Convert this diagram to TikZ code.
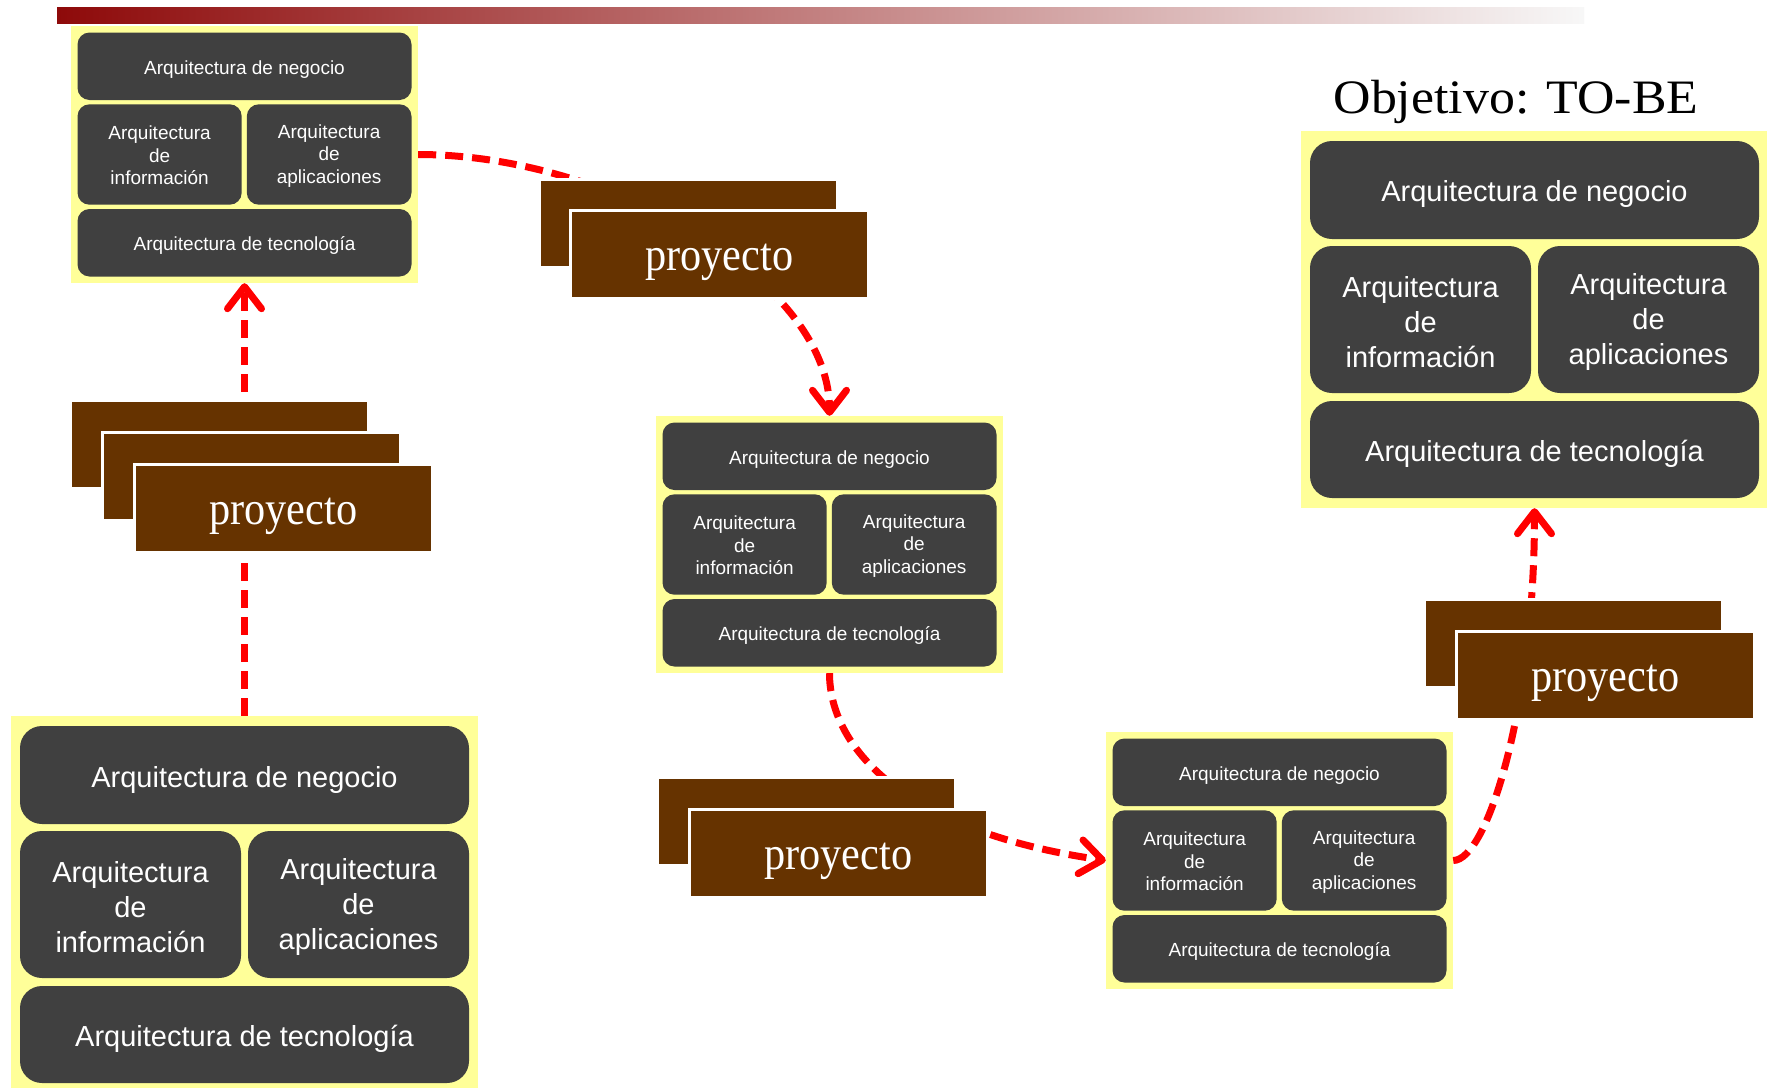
\documentclass[tikz,border=0pt]{standalone}
\usepackage{fontspec}
\setmainfont{Liberation Serif}
\setsansfont{Liberation Sans}
\usepackage{graphicx}
\usetikzlibrary{arrows.meta,calc}
\definecolor{yel}{HTML}{FFFF99}
\definecolor{dk}{HTML}{404040}
\definecolor{brn}{HTML}{663300}
\definecolor{barred}{RGB}{142,10,10}
\definecolor{barmid}{RGB}{200,160,160}
\definecolor{arrred}{HTML}{FF0000}

\tikzset{
  ybox/.style={rectangle, fill=yel, inner sep=0pt},
  dsm/.style={rectangle, rounded corners=12pt, fill=dk, text=white, inner sep=0pt, align=center,
    font=\sffamily\fontsize{19}{22.5}\selectfont},
  dbg/.style={rectangle, rounded corners=22pt, fill=dk, text=white, inner sep=0pt, align=center,
    font=\sffamily\fontsize{29}{35}\selectfont},
  pbox/.style={rectangle, fill=brn, draw=white, line width=2.5pt, minimum width=298pt,
    minimum height=88pt, anchor=north west, inner sep=0pt},
  ptext/.style={text=white, font=\fontsize{47}{50}\selectfont, text height=32pt, text depth=0pt},
  arr/.style={draw=arrred, line width=7pt, dash pattern=on 18pt off 9pt,
    -{Straight Barb[length=22pt,width=34pt,round]}},
}

\newcommand{\smallarch}[3]{%
  \node[ybox, minimum width=347pt, minimum height=257pt] (#1) at (#2+173.5,#3+128.5) {};
  \node[dsm, minimum width=334pt, minimum height=67.5pt] (#1-n) at (#2+173.5,#3+40.25) {\rule{0pt}{20pt}Arquitectura de negocio};
  \node[dsm, minimum width=164.2pt, minimum height=100.4pt] (#1-i) at (#2+88.6,#3+128.5) {\rule{0pt}{16pt}Arquitectura\\de\\información};
  \node[dsm, minimum width=164.7pt, minimum height=100.4pt] (#1-a) at (#2+258.15,#3+128.5) {\rule{0pt}{16pt}Arquitectura\\de\\aplicaciones};
  \node[dsm, minimum width=334pt, minimum height=67.5pt] (#1-t) at (#2+173.5,#3+216.75) {\rule{0pt}{20pt}Arquitectura de tecnología};
}
\newcommand{\bigarch}[3]{%
  \node[ybox, minimum width=467pt, minimum height=377pt] (#1) at (#2+233.5,#3+188.5) {};
  \node[dbg, minimum width=449pt, minimum height=98pt] (#1-n) at (#2+233.5,#3+59) {\rule{0pt}{30pt}Arquitectura de negocio};
  \node[dbg, minimum width=221pt, minimum height=147pt] (#1-i) at (#2+119.5,#3+188.5) {\rule{0pt}{26pt}Arquitectura\\de\\información};
  \node[dbg, minimum width=221pt, minimum height=147pt] (#1-a) at (#2+347.5,#3+188.5) {\rule{0pt}{26pt}Arquitectura\\de\\aplicaciones};
  \node[dbg, minimum width=449pt, minimum height=97pt] (#1-t) at (#2+233.5,#3+318.5) {\rule{0pt}{30pt}Arquitectura de tecnología};
}

\begin{document}
\begin{tikzpicture}[x=1pt,y=-1pt]
  \path[use as bounding box, fill=white] (0,0) rectangle (1767,1087);

  % top gradient bar
  \shade[left color=barred, middle color=barmid, right color=white!97!black] (57,7) rectangle (1584,23);

  % title
  \node[font=\fontsize{48}{52}\selectfont, anchor=base, inner sep=0pt] (title) at (1516,113)
    {\scalebox{1.08}[1]{Objetivo: TO-BE}};

  % architecture blocks
  \bigarch{asis}{11}{716}
  \smallarch{sa}{71}{26}
  \smallarch{sb}{656}{416}
  \smallarch{sc}{1106}{732}
  \bigarch{tobe}{1301}{131}

  % connectors (drawn beneath the project stacks)
  \draw[arr] (asis.north) -- (sa.south);
  \draw[arr] (sa.east) .. controls ($(sa.east)+(192,0)$) and ($(sb.north)+(0,-135)$) .. (sb.north);
  \draw[arr] (sb.south) .. controls ($(sb.south)+(0,72)$) and ($(sc.west)+(-206,-30)$) .. (sc.west);
  \draw[arr] (sc.east) .. controls ($(sc.east)+(34,0)$) and ($(tobe.south)+(0,200)$) .. (tobe.south);

  % project stacks
  \node[pbox] (p1a) at (69,399) {};
  \node[pbox] (p1b) at (101,431) {};
  \node[pbox, ptext] (p1c) at (133,463) {\scalebox{0.9}[1]{proyecto}};

  \node[pbox] (p2a) at (538,178) {};
  \node[pbox, ptext] (p2b) at (569,209) {\scalebox{0.9}[1]{proyecto}};

  \node[pbox] (p3a) at (656,776) {};
  \node[pbox, ptext] (p3b) at (688,808) {\scalebox{0.9}[1]{proyecto}};

  \node[pbox] (p4a) at (1423,598) {};
  \node[pbox, ptext] (p4b) at (1455,630) {\scalebox{0.9}[1]{proyecto}};
\end{tikzpicture}
\end{document}
